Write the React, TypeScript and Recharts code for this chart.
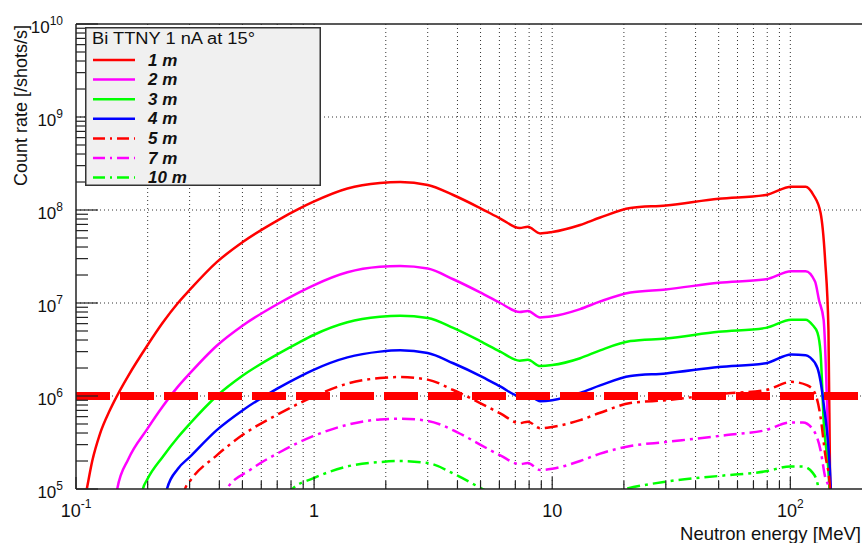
import { LineChart, Line, XAxis, YAxis, CartesianGrid, ReferenceLine, Legend, Label } from 'recharts';

// Count rate vs neutron energy, [E in MeV, rate in /shots/s]
const rate1m: [number, number][] = [
  [0.108, 7e4], [0.111, 1e5], [0.117, 2.0e5], [0.126, 3.9e5], [0.139, 7.1e5], [0.153, 1.15e6],
  [0.166, 1.66e6], [0.199, 3.47e6], [0.232, 6.2e6], [0.268, 1.0e7], [0.3, 1.38e7], [0.39, 2.75e7],
  [0.5, 4.5e7], [0.7, 7.7e7], [0.87, 1.04e8], [0.99, 1.22e8], [1.38, 1.7e8], [1.89, 1.95e8],
  [2.3, 2.0e8], [3.0, 1.86e8], [3.84, 1.45e8], [4.98, 1.05e8], [6.05, 8.1e7], [7.3, 6.4e7],
  [7.9, 6.6e7], [8.9, 5.6e7], [10, 5.8e7], [13.1, 6.9e7], [15.9, 8.3e7], [21.3, 1.05e8],
  [30, 1.12e8], [50, 1.32e8], [79, 1.45e8], [101, 1.78e8], [116, 1.78e8], [125, 1.45e8],
  [134, 9.3e7], [140, 2.9e7], [144.6, 5.1e6], [147, 1e5], [149, 3e4],
];

const rate2m: [number, number][] = [
  [0.146, 7e4], [0.149, 1e5], [0.166, 2.1e5], [0.199, 4.4e5], [0.232, 7.8e5], [0.268, 1.26e6],
  [0.3, 1.74e6], [0.39, 3.47e6], [0.5, 5.7e6], [0.7, 9.7e6], [0.87, 1.31e7], [0.99, 1.54e7],
  [1.38, 2.14e7], [1.89, 2.45e7], [2.3, 2.5e7], [3.0, 2.35e7], [3.84, 1.8e7],
  [4.98, 1.3e7], [6.05, 1.0e7], [7.3, 8.0e6], [7.9, 8.2e6], [8.9, 7.0e6], [10, 7.2e6],
  [13.1, 8.6e6], [15.9, 1.04e7], [21.3, 1.3e7], [30, 1.4e7], [50, 1.65e7], [79, 1.8e7],
  [101, 2.2e7], [116, 2.2e7], [127, 1.7e7], [132, 1.07e7], [138, 6.6e6], [146, 1e5], [148, 3e4],
];

const rate3m: [number, number][] = [
  [0.188, 8e4], [0.191, 1e5], [0.199, 1.26e5], [0.232, 2.24e5], [0.268, 3.6e5], [0.3, 5.0e5],
  [0.39, 1.0e6], [0.5, 1.65e6], [0.7, 2.8e6], [0.87, 3.8e6], [0.99, 4.5e6], [1.38, 6.2e6],
  [1.89, 7.1e6], [2.3, 7.3e6], [3.0, 6.9e6], [3.84, 5.4e6], [4.98, 3.9e6], [6.05, 3.0e6],
  [7.3, 2.4e6], [7.9, 2.45e6], [8.9, 2.1e6], [10, 2.15e6], [13.1, 2.55e6], [15.9, 3.1e6],
  [21.3, 3.9e6], [30, 4.15e6], [50, 4.9e6], [79, 5.4e6], [101, 6.6e6], [116, 6.6e6],
  [124, 5.8e6], [130, 4.8e6], [134, 2.9e6], [138, 5.5e5], [146, 1e5], [148, 3e4],
];

const rate4m: [number, number][] = [
  [0.237, 7e4], [0.241, 1e5], [0.268, 1.65e5], [0.3, 2.2e5], [0.39, 4.3e5], [0.5, 7.0e5],
  [0.7, 1.2e6], [0.87, 1.62e6], [0.99, 1.9e6], [1.38, 2.6e6], [1.89, 3.0e6], [2.3, 3.1e6],
  [3.0, 2.9e6], [3.84, 2.25e6], [4.98, 1.65e6], [6.05, 1.27e6], [7.3, 1.0e6], [7.9, 1.03e6],
  [8.9, 8.8e5], [10, 9.0e5], [13.1, 1.08e6], [15.9, 1.3e6], [21.3, 1.64e6], [30, 1.75e6],
  [50, 2.05e6], [79, 2.25e6], [101, 2.8e6], [116, 2.75e6], [121, 2.6e6], [130, 2.0e6],
  [138, 8.3e5], [148, 1e5], [150, 3e4],
];

const rate5m: [number, number][] = [
  [0.284, 8e4], [0.287, 1e5], [0.3, 1.2e5], [0.39, 2.3e5], [0.5, 3.8e5], [0.7, 6.3e5],
  [0.87, 8.4e5], [0.99, 9.8e5], [1.38, 1.36e6], [1.89, 1.56e6], [2.3, 1.6e6], [3.0, 1.5e6],
  [3.84, 1.16e6], [4.98, 8.4e5], [6.05, 6.5e5], [7.3, 5.1e5], [7.9, 5.3e5], [8.9, 4.5e5],
  [10, 4.65e5], [13.1, 5.5e5], [15.9, 6.6e5], [21.3, 8.4e5], [30, 9.0e5], [50, 1.05e6],
  [79, 1.16e6], [101, 1.42e6], [118, 1.3e6], [127, 1.07e6], [134, 5.9e5], [140, 2.4e5],
  [147, 1e5], [149, 5e4],
];

const rate7m: [number, number][] = [
  [0.42, 7e4], [0.43, 1e5], [0.538, 1.6e5], [0.72, 2.5e5], [0.99, 3.7e5], [1.38, 4.9e5],
  [1.89, 5.6e5], [2.3, 5.7e5], [3.0, 5.4e5], [3.98, 4.1e5], [4.98, 3.0e5], [6.05, 2.3e5],
  [7.3, 1.85e5], [7.9, 1.9e5], [8.9, 1.6e5], [10, 1.65e5], [13.1, 2.0e5], [15.9, 2.4e5],
  [21.3, 2.9e5], [30, 3.2e5], [54, 3.8e5], [79, 4.3e5], [100, 5.2e5], [113, 5.2e5],
  [125, 4.3e5], [134, 2.6e5], [140, 1.35e5], [145, 1e5], [147, 5e4],
];

const rate10m: [number, number][] = [
  [0.79, 8e4], [0.81, 1e5], [0.99, 1.3e5], [1.38, 1.75e5], [1.89, 1.95e5], [2.3, 2.0e5],
  [3.0, 1.9e5], [3.98, 1.4e5], [5.1, 1.0e5], [6.05, 8e4], [7.3, 6.5e4], [8.9, 5.6e4],
  [10, 5.8e4], [13.1, 6.9e4], [15.9, 8.3e4], [20.3, 1.0e5], [30, 1.2e5], [50, 1.38e5],
  [79, 1.55e5], [100, 1.75e5], [113, 1.74e5], [124, 1.5e5], [130, 1.15e5], [133, 8e4],
];

const seriesNames = ['1 m', '2 m', '3 m', '4 m', '5 m', '7 m', '10 m'];
const seriesRates = [rate1m, rate2m, rate3m, rate4m, rate5m, rate7m, rate10m];
const seriesColors = ['#ff0000', '#ff00ff', '#00ff00', '#0000ff', '#ff0000', '#ff00ff', '#00ff00'];
const seriesDashed = [false, false, false, false, true, true, true];

const xTicks = [
  0.1, 0.2, 0.3, 0.4, 0.5, 0.6, 0.7, 0.8, 0.9,
  1, 2, 3, 4, 5, 6, 7, 8, 9,
  10, 20, 30, 40, 50, 60, 70, 80, 90, 100,
];
const xMajor = [0.1, 1, 10, 100];
const xMajorBase = ['10', '1', '10', '10'];
const xMajorExp = ['-1', '', '', '2'];

const yMajor = [1e5, 1e6, 1e7, 1e8, 1e9, 1e10];
const yMajorExp = ['5', '6', '7', '8', '9', '10'];
const yTicks = yMajor.flatMap((d, i) =>
  i < yMajor.length - 1 ? [d, 2 * d, 3 * d, 4 * d, 5 * d, 6 * d, 7 * d, 8 * d, 9 * d] : [d]
);
const yGrid = [1e6, 1e7, 1e8, 1e9];
const threshold = 1e6;

const FONT = "'Liberation Sans', Arial, Helvetica, sans-serif";
const AXIS = '#222';

const toPoints = (rows: [number, number][]) => rows.map(([e, r]) => ({ e, r }));

function XTick(props: any) {
  const { x, y, payload } = props;
  const idx = xMajor.indexOf(payload.value);
  const len = idx >= 0 ? 12 : 8;
  return (
    <g>
      <line x1={x} x2={x} y1={y} y2={y - len} stroke={AXIS} strokeWidth={1.2} />
      {idx >= 0 && (
        <text x={x} y={y + 28} textAnchor="middle" fontSize={18} fill="#111" fontFamily={FONT}>
          <tspan>{xMajorBase[idx]}</tspan>
          {xMajorExp[idx] && (
            <tspan dy={-9} fontSize={12}>
              {xMajorExp[idx]}
            </tspan>
          )}
        </text>
      )}
    </g>
  );
}

function YTick(props: any) {
  const { x, y, payload } = props;
  const idx = yMajor.indexOf(payload.value);
  const len = idx >= 0 ? 22 : 12;
  return (
    <g>
      <line x1={x} x2={x + len} y1={y} y2={y} stroke={AXIS} strokeWidth={1.2} />
      {idx >= 0 && (
        <text x={x - 13} y={y + 9} textAnchor="end" fontSize={17} fill="#111" fontFamily={FONT}>
          <tspan>10</tspan>
          <tspan dy={-8} fontSize={12}>
            {yMajorExp[idx]}
          </tspan>
        </text>
      )}
    </g>
  );
}

function LegendBox() {
  return (
    <svg width={236} height={160} style={{ display: 'block' }}>
      <rect x={0.75} y={0.75} width={234.5} height={157.5} fill="#f0f0f0" stroke="#333" strokeWidth={1.5} />
      <text x={7} y={17} fontSize={16} fill="#111" fontFamily={FONT} textLength={163} lengthAdjust="spacingAndGlyphs">
        Bi TTNY 1 nA at 15°
      </text>
      {seriesNames.map((name, i) => {
        const cy = 33 + i * 19.6;
        return (
          <g key={name}>
            <line
              x1={8}
              x2={50}
              y1={cy}
              y2={cy}
              stroke={seriesColors[i]}
              strokeWidth={2.5}
              strokeDasharray={seriesDashed[i] ? '12 5 2 5' : undefined}
            />
            <text x={63} y={cy + 5.5} fontSize={17} fontWeight="bold" fontStyle="italic" fill="#111" fontFamily={FONT}>
              {name}
            </text>
          </g>
        );
      })}
    </svg>
  );
}

export default function App() {
  return (
    <div style={{ position: 'absolute', left: 0, top: 0, width: 863, height: 543, background: '#fff', fontFamily: FONT }}>
      <LineChart width={863} height={543} margin={{ top: 24, right: 1, bottom: 24, left: 16 }}>
        <CartesianGrid
          stroke="#333"
          strokeDasharray="1 3"
          horizontalValues={yGrid}
          verticalValues={xTicks.slice(1)}
        />
        <XAxis
          dataKey="e"
          type="number"
          scale="log"
          domain={[0.1, 200]}
          allowDataOverflow
          ticks={xTicks}
          interval={0}
          height={30}
          tickSize={0}
          tickMargin={0}
          tick={<XTick />}
          axisLine={{ stroke: AXIS, strokeWidth: 1.5 }}
          tickLine={false}
          label={
            <Label
              content={() => (
                <text x={861} y={540} textAnchor="end" fontSize={18.5} fill="#111" fontFamily={FONT}>
                  Neutron energy [MeV]
                </text>
              )}
            />
          }
        />
        <YAxis
          dataKey="r"
          type="number"
          scale="log"
          domain={[1e5, 1e10]}
          allowDataOverflow
          ticks={yTicks}
          interval={0}
          width={60}
          tickSize={0}
          tickMargin={0}
          tick={<YTick />}
          axisLine={{ stroke: AXIS, strokeWidth: 1.5 }}
          tickLine={false}
          label={
            <Label
              content={() => (
                <text transform="translate(27,25) rotate(-90)" textAnchor="end" fontSize={18} fill="#111" fontFamily={FONT}>
                  Count rate [/shots/s]
                </text>
              )}
            />
          }
        />
        <ReferenceLine y={1e10} stroke={AXIS} strokeWidth={1.5} />
        {seriesNames.map((name, i) => (
          <Line
            key={name}
            name={name}
            data={toPoints(seriesRates[i])}
            dataKey="r"
            type="monotone"
            stroke={seriesColors[i]}
            strokeWidth={2.5}
            strokeDasharray={seriesDashed[i] ? '13 5 3 5' : undefined}
            dot={false}
            activeDot={false}
            isAnimationActive={false}
          />
        ))}
        <ReferenceLine y={threshold} stroke="#ff0000" strokeWidth={8} strokeDasharray="34 10" />
        <Legend
          layout="vertical"
          align="center"
          verticalAlign="middle"
          content={() => <LegendBox />}
          wrapperStyle={{ left: 85, top: 27, width: 236, height: 160 }}
        />
      </LineChart>
    </div>
  );
}
